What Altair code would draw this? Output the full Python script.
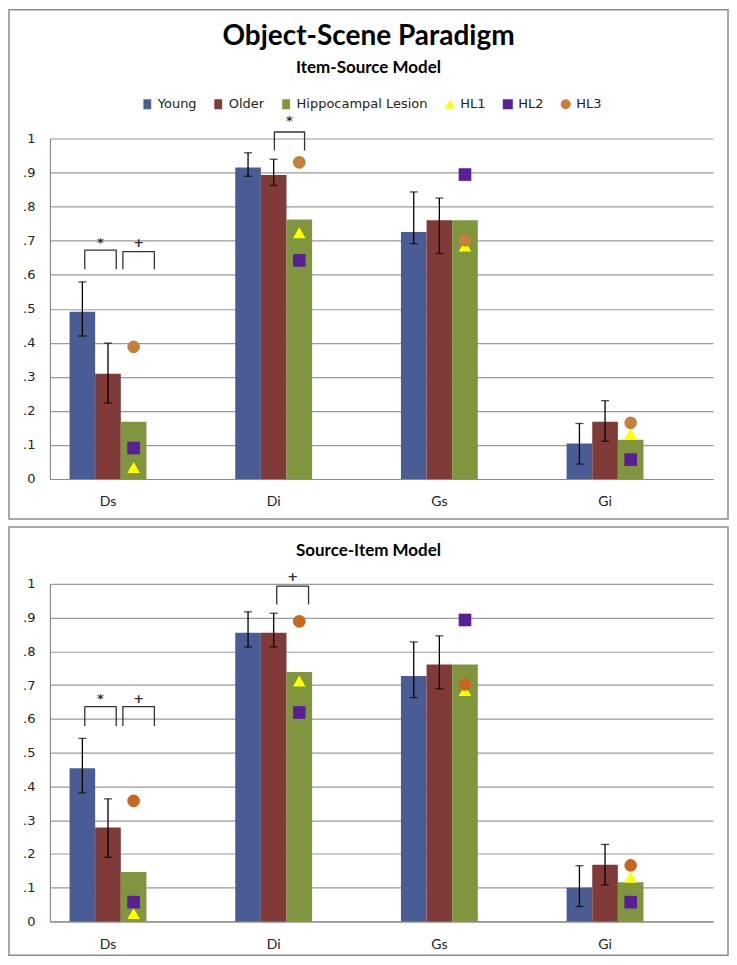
import altair as alt
import pandas as pd

# ---------------- data ----------------
categories = ["Ds", "Di", "Gs", "Gi"]
groups = ["Young", "Older", "Hippocampal Lesion"]
individuals = ["HL1", "HL2", "HL3"]
series_all = groups + individuals

main_title = "Object-Scene Paradigm"
top_subtitle = "Item-Source Model"
bottom_subtitle = "Source-Item Model"

y_ticks = [0, 0.1, 0.2, 0.3, 0.4, 0.5, 0.6, 0.7, 0.8, 0.9, 1]

# Item-Source model (top panel)
top_young = [0.491, 0.915, 0.725, 0.104]
top_young_lo = [0.420, 0.889, 0.691, 0.044]
top_young_hi = [0.579, 0.958, 0.843, 0.163]
top_older = [0.309, 0.893, 0.760, 0.168]
top_older_lo = [0.223, 0.862, 0.662, 0.111]
top_older_hi = [0.399, 0.939, 0.825, 0.230]
top_lesion = [0.168, 0.762, 0.760, 0.115]
top_hl1 = [0.034, 0.723, 0.684, 0.132]
top_hl2 = [0.091, 0.642, 0.894, 0.057]
top_hl3 = [0.388, 0.930, 0.701, 0.165]

# Source-Item model (bottom panel)
bot_young = [0.454, 0.855, 0.727, 0.100]
bot_young_lo = [0.381, 0.813, 0.663, 0.044]
bot_young_hi = [0.542, 0.917, 0.828, 0.165]
bot_older = [0.278, 0.855, 0.761, 0.168]
bot_older_lo = [0.190, 0.813, 0.689, 0.108]
bot_older_hi = [0.363, 0.913, 0.846, 0.228]
bot_lesion = [0.146, 0.739, 0.761, 0.116]
bot_hl1 = [0.023, 0.712, 0.684, 0.131]
bot_hl2 = [0.057, 0.619, 0.893, 0.057]
bot_hl3 = [0.357, 0.889, 0.702, 0.166]

# significance brackets (category units: 0..4 across the plot)
top_br_label = ["*", "+", "*"]
top_br_x0 = [0.21, 0.44, 1.354]
top_br_x1 = [0.40, 0.63, 1.536]
top_br_foot = [0.616, 0.616, 0.965]
top_br_top = [0.672, 0.668, 1.019]
top_br_text_y = [0.692, 0.692, 1.052]

bot_br_label = ["*", "+", "+"]
bot_br_x0 = [0.21, 0.44, 1.368]
bot_br_x1 = [0.40, 0.63, 1.56]
bot_br_foot = [0.579, 0.579, 0.939]
bot_br_top = [0.636, 0.636, 0.993]
bot_br_text_y = [0.660, 0.660, 1.020]

# styles
bar_colors = ["#4A5C94", "#803A38", "#7F963F"]
top_marker_colors = ["#FFFF00", "#5A1E96", "#C5813C"]
bot_marker_colors = ["#FFFF00", "#5A1E96", "#C8661E"]
marker_shapes = ["triangle-up", "square", "circle"]
rect_symbol = "M-0.78,-1H0.78V1H-0.78Z"
legend_shapes = [rect_symbol, rect_symbol, rect_symbol] + marker_shapes

PLOT_W = 664
FRAME_COLOR = "#8c8c8c"
Y_SCALE = alt.Scale(domain=[0, 1], nice=False, zero=True)
Y_AXIS = alt.Axis(
    values=y_ticks, ticks=False, grid=True, title=None,
    labelExpr="datum.value == 0 ? '0' : datum.value == 1 ? '1' : replace(format(datum.value, '.1f'), '0.', '.')",
)
X_SCALE = alt.Scale(domain=categories, paddingInner=0.536, paddingOuter=0.269, align=0.22)
X_AXIS = alt.Axis(title=None, labelAngle=0, ticks=False, grid=False)


def yenc(field):
    return alt.Y(field, scale=Y_SCALE, axis=Y_AXIS, title=None)


def make_panel(young, young_lo, young_hi, older, older_lo, older_hi, lesion,
               hl1, hl2, hl3, br_label, br_x0, br_x1, br_foot, br_top, br_text_y,
               marker_colors, height, frame_top, frame_bottom, texts, show_legend):
    bars_df = pd.DataFrame({
        "cat": categories * 3,
        "series": [g for g in groups for _ in categories],
        "value": young + older + lesion,
    })
    err_df = pd.DataFrame({
        "cat": categories * 2,
        "series": ["Young"] * 4 + ["Older"] * 4,
        "lo": young_lo + older_lo,
        "hi": young_hi + older_hi,
    })
    pts_df = pd.DataFrame({
        "cat": categories * 3,
        "series": [h for h in individuals for _ in categories],
        "grp": ["Hippocampal Lesion"] * 12,
        "value": hl1 + hl2 + hl3,
    })
    rows = []
    for i in range(len(br_label)):
        pts = [(br_x0[i], br_foot[i]), (br_x0[i], br_top[i]),
               (br_x1[i], br_top[i]), (br_x1[i], br_foot[i])]
        for k, (xx, yy) in enumerate(pts):
            rows.append({"id": i, "ord": k, "xq": xx, "y": yy})
    br_df = pd.DataFrame(rows)
    brt_df = pd.DataFrame({
        "xq": [(a + b) / 2 for a, b in zip(br_x0, br_x1)],
        "y": br_text_y,
        "label": br_label,
    })

    colors = bar_colors + marker_colors
    if show_legend:
        legend = alt.Legend(
            orient="none", legendX=91, legendY=-41, direction="horizontal",
            columns=6, title=None, labelFont="DejaVu Sans", labelFontSize=13,
            labelColor="#222222", symbolSize=100, columnPadding=15,
            labelOffset=4, padding=0, symbolStrokeWidth=0, symbolOpacity=1,
        )
    else:
        legend = None
    color_enc = alt.Color("series:N", scale=alt.Scale(domain=series_all, range=colors),
                          legend=legend)
    shape_enc = alt.Shape("series:N", scale=alt.Scale(domain=series_all, range=legend_shapes),
                          legend=legend)

    x_enc = alt.X("cat:N", scale=X_SCALE, axis=X_AXIS, title=None)
    xoff_scale = alt.Scale(domain=groups, paddingInner=0, paddingOuter=0)

    bars = alt.Chart(bars_df).mark_bar().encode(
        x=x_enc,
        xOffset=alt.XOffset("series:N", scale=xoff_scale),
        y=yenc("value:Q"),
        color=color_enc,
    )
    rules = alt.Chart(err_df).mark_rule(color="#000000", strokeWidth=1.3).encode(
        x=x_enc,
        xOffset=alt.XOffset("series:N", scale=xoff_scale),
        y=yenc("lo:Q"),
        y2="hi:Q",
    )
    caps_lo = alt.Chart(err_df).mark_tick(color="#000000", size=8, thickness=1.3).encode(
        x=x_enc,
        xOffset=alt.XOffset("series:N", scale=xoff_scale),
        y=yenc("lo:Q"),
    )
    caps_hi = alt.Chart(err_df).mark_tick(color="#000000", size=8, thickness=1.3).encode(
        x=x_enc,
        xOffset=alt.XOffset("series:N", scale=xoff_scale),
        y=yenc("hi:Q"),
    )
    points = alt.Chart(pts_df).mark_point(filled=True, opacity=1, size=160).encode(
        x=x_enc,
        xOffset=alt.XOffset("grp:N", scale=xoff_scale),
        y=yenc("value:Q"),
        color=color_enc,
        shape=shape_enc,
    )
    data_layer = alt.layer(bars, rules, caps_lo, caps_hi, points)

    xq = alt.X("xq:Q", scale=alt.Scale(domain=[0, 4], nice=False, zero=False), axis=None)
    br_lines = alt.Chart(br_df).mark_line(color="#333333", strokeWidth=1.3,
                                          strokeJoin="round").encode(
        x=xq,
        y=yenc("y:Q"),
        detail="id:N",
        order="ord:Q",
    )
    br_text = alt.Chart(brt_df).mark_text(font="DejaVu Sans", fontSize=13, fontWeight="bold",
                                          color="#333333", baseline="middle").encode(
        x=xq,
        y=yenc("y:Q"),
        text="label:N",
    )
    one = pd.DataFrame({"k": [0]})
    frame = alt.Chart(one).mark_rect(fillOpacity=0, stroke=FRAME_COLOR, strokeWidth=1.5).encode(
        x=alt.value(-41), x2=alt.value(PLOT_W + 15),
        y=alt.value(frame_top), y2=alt.value(frame_bottom),
    )
    title_layers = []
    for txt, size, yy in texts:
        title_layers.append(
            alt.Chart(one).mark_text(font="Lato", fontWeight="bold", fontSize=size,
                                     color="#000000", baseline="middle", align="center").encode(
                x=alt.value(319), y=alt.value(yy), text=alt.value(txt))
        )
    ann_layer = alt.layer(br_lines, br_text, frame, *title_layers)

    return alt.layer(data_layer, ann_layer).resolve_scale(x="independent").properties(
        width=PLOT_W, height=height)


top = make_panel(top_young, top_young_lo, top_young_hi, top_older, top_older_lo, top_older_hi,
                 top_lesion, top_hl1, top_hl2, top_hl3,
                 top_br_label, top_br_x0, top_br_x1, top_br_foot, top_br_top, top_br_text_y,
                 top_marker_colors, 341, -129, 381,
                 [(main_title, 28, -102), (top_subtitle, 17, -71)], True)

bottom = make_panel(bot_young, bot_young_lo, bot_young_hi, bot_older, bot_older_lo, bot_older_hi,
                    bot_lesion, bot_hl1, bot_hl2, bot_hl3,
                    bot_br_label, bot_br_x0, bot_br_x1, bot_br_foot, bot_br_top, bot_br_text_y,
                    bot_marker_colors, 338, -57, 372,
                    [(bottom_subtitle, 17, -33)], False)

chart = alt.vconcat(top, bottom, spacing=6).resolve_scale(
    color="independent", shape="independent"
).properties(padding=0).configure_view(strokeWidth=0).configure_axisY(
    gridColor="#9a9a9a", gridWidth=1.2, domainColor="#8c8c8c", domainWidth=1.2,
    labelFont="DejaVu Sans", labelFontSize=13, labelColor="#222222", labelPadding=15,
).configure_axisX(
    labelFont="Lato", labelFontSize=14, labelColor="#222222", labelPadding=16,
    domainColor="#8c8c8c", domainWidth=1.2,
)

chart.save("out.html", embed_options={"renderer": "svg", "actions": False})
